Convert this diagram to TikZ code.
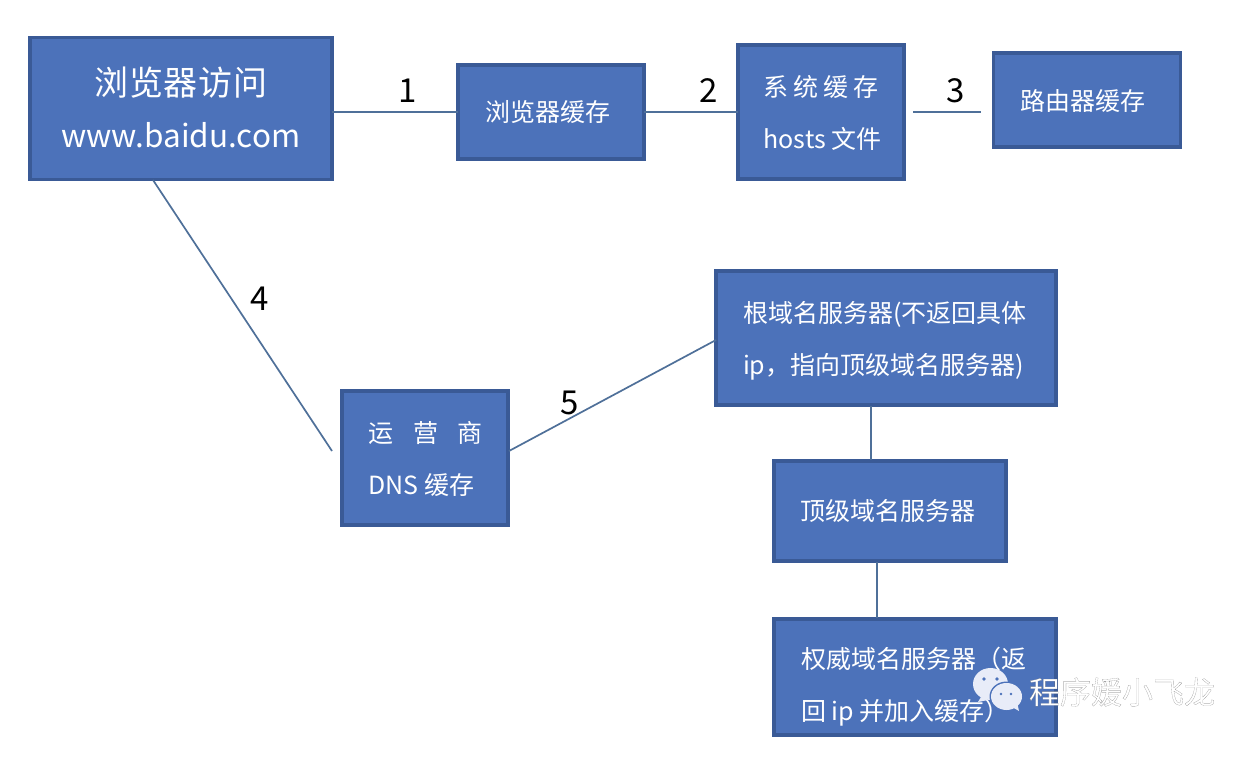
\documentclass[tikz,border=0pt]{standalone}
\usepackage{fontspec}
\setmainfont{Noto Sans CJK SC}
\newfontfamily\wmfont[FakeBold=0.25]{Noto Sans CJK SC}
\newcommand{\spreadline}[2]{\makebox[#1pt][s]{#2}}
\definecolor{boxfill}{HTML}{4C72BA}
\definecolor{boxedge}{HTML}{3A5A96}
\definecolor{linkcol}{HTML}{4F7099}
\definecolor{bubble}{HTML}{E8ECF8}
\tikzset{
  x=1pt,y=-1pt,
  boxnode/.style={draw=boxedge,fill=boxfill,line width=3.6pt,outer sep=0pt,inner sep=0pt},
  boxlabel/.style={text=white,align=left,inner sep=0pt,font=\fontsize{25}{52}\selectfont},
  link/.style={draw=linkcol,line width=1.7pt},
  numlabel/.style={text=black,inner sep=0pt,font=\fontsize{33}{36}\selectfont}
}
\begin{document}
\begin{tikzpicture}
\useasboundingbox (0,0) rectangle (1255,767);
\fill[white] (0,0) rectangle (1255,767);

\node[boxnode,minimum width=302pt,minimum height=142pt] (a) at (181,108.5) {};
\node[boxnode,minimum width=186pt,minimum height=94pt] (b) at (551,112) {};
\node[boxnode,minimum width=166pt,minimum height=134pt] (c) at (821,112) {};
\node[boxnode,minimum width=187pt,minimum height=94pt] (d) at (1087,100) {};
\node[boxnode,minimum width=166pt,minimum height=134pt] (e) at (425,458) {};
\node[boxnode,minimum width=340pt,minimum height=134pt] (f) at (886,338) {};
\node[boxnode,minimum width=232pt,minimum height=100pt] (g) at (890,511) {};
\node[boxnode,minimum width=282pt,minimum height=116pt] (h) at (915,677) {};

\node[boxlabel,align=center] (atext) at (181,107) {\fontsize{34}{52}\selectfont\spreadline{173}{浏\hfil 览\hfil 器\hfil 访\hfil 问}\\\fontsize{31.5}{52}\selectfont www.baidu.com};
\node[boxlabel] (btext) at (547.5,112) {浏览器缓存};
\node[boxlabel] (ctext) at (822.5,113) {\spreadline{115}{系\hfil 统\hfil 缓\hfil 存}\\hosts 文件};
\node[boxlabel] (dtext) at (1083,101) {路由器缓存};
\node[boxlabel] (etext) at (425.5,459) {\spreadline{114}{运\hfil 营\hfil 商}\\DNS 缓存};
\node[boxlabel] (ftext) at (887,341) {\spreadline{288}{根域名服务器(不返回具体}\\\spreadline{277}{ip，指向顶级域名服务器)}};
\node[boxlabel] (gtext) at (888,511) {顶级域名服务器};
\node[boxlabel] (htext) at (915.5,687) {\spreadline{229}{权威域名服务器（返}\\回 ip 并加入缓存）};

\coordinate (c3) at (913,112);
\coordinate (d3) at (981,112);
\coordinate (e4) at (332,451);
\coordinate (a4) at (153,180);
\coordinate (e5) at (509,451);
\coordinate (f5) at (716,340);
\coordinate (f6) at (871,406);
\coordinate (g6) at (871,460);
\coordinate (g7) at (877,562);
\coordinate (h7) at (877,618);

\draw[link] (a.east |- b.west) -- (b.west);
\draw[link] (b.east) -- (c.west);
\draw[link] (c3) -- (d3);
\draw[link] (a4) -- (e4);
\draw[link] (e5) -- (f5);
\draw[link] (f6) -- (g6);
\draw[link] (g7) -- (h7);

\node[numlabel] (n1) at (408,91) {1};
\node[numlabel] (n2) at (709,91) {2};
\node[numlabel] (n3) at (956,91) {3};
\node[numlabel] (n4) at (260,299) {4};
\node[numlabel] (n5) at (570,403) {5};

% watermark
\fill[bubble] (990.5,684) ellipse [x radius=17.5,y radius=16];
\fill[bubble] (981,697) -- (978,702) -- (988,700) -- cycle;
\fill[boxfill] (1006.5,696.5) ellipse [x radius=17,y radius=15];
\fill[bubble] (1006.5,696.5) ellipse [x radius=15.5,y radius=13.5];
\fill[bubble] (1012,707) -- (1019,711) -- (1017,702) -- cycle;
\fill[boxfill] (984,679) circle (1.9) (997,679) circle (1.9) (1001,694) circle (1.4) (1011,694) circle (1.4);
\node[inner sep=0pt,font=\fontsize{31}{34}\selectfont\wmfont] (wm) at (1122,692) {\special{pdf:bcolor [1 1 1] [0.45 0.45 0.45]}程序媛小飞龙\special{pdf:ecolor}};
\end{tikzpicture}
\end{document}
